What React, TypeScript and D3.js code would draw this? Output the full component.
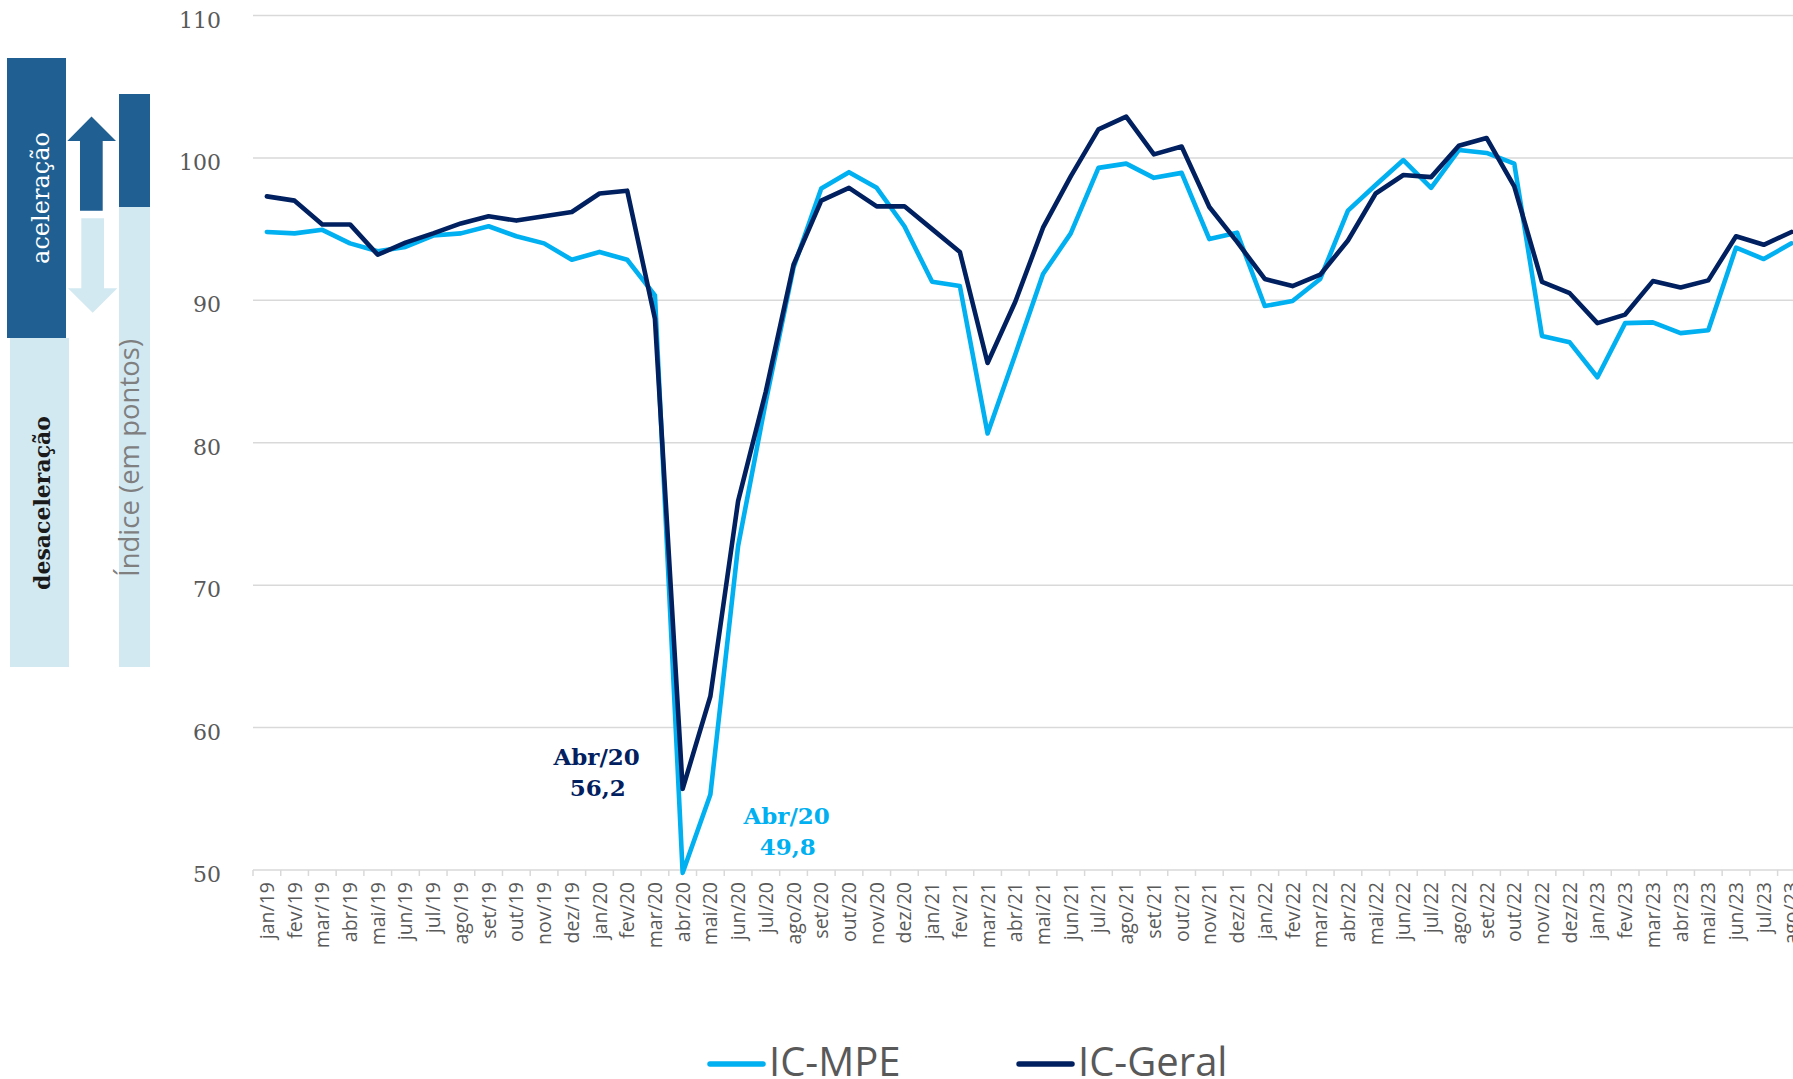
import React from "react";
import * as d3 from "d3";

const categories = [
  "jan/19","fev/19","mar/19","abr/19","mai/19","jun/19","jul/19","ago/19","set/19","out/19","nov/19","dez/19",
  "jan/20","fev/20","mar/20","abr/20","mai/20","jun/20","jul/20","ago/20","set/20","out/20","nov/20","dez/20",
  "jan/21","fev/21","mar/21","abr/21","mai/21","jun/21","jul/21","ago/21","set/21","out/21","nov/21","dez/21",
  "jan/22","fev/22","mar/22","abr/22","mai/22","jun/22","jul/22","ago/22","set/22","out/22","nov/22","dez/22",
  "jan/23","fev/23","mar/23","abr/23","mai/23","jun/23","jul/23","ago/23",
];

const icMPE = [
  94.8, 94.7, 94.95, 94.0, 93.45, 93.75, 94.55, 94.7, 95.2, 94.5, 94.0, 92.85,
  93.4, 92.85, 90.35, 49.8, 55.3, 72.75, 82.9, 92.3, 97.85, 99.0, 97.9, 95.2,
  91.3, 91.0, 80.65, 86.2, 91.85, 94.7, 99.3, 99.6, 98.6, 98.95, 94.3, 94.75,
  89.6, 89.95, 91.5, 96.3, 98.1, 99.85, 97.9, 100.55, 100.35, 99.6, 87.5, 87.05,
  84.6, 88.4, 88.45, 87.7, 87.9, 93.7, 92.9, 94.0,
];

const icGeral = [
  97.3, 97.0, 95.33, 95.33, 93.2, 94.05, 94.7, 95.4, 95.9, 95.6, 95.9, 96.2,
  97.5, 97.7, 88.7, 55.7, 62.2, 75.9, 83.6, 92.5, 97.0, 97.9, 96.6, 96.6,
  95.0, 93.4, 85.6, 89.9, 95.1, 98.7, 102.0, 102.9, 100.25, 100.8, 96.55, 94.1,
  91.5, 91.0, 91.8, 94.2, 97.5, 98.8, 98.65, 100.85, 101.4, 98.0, 91.3, 90.5,
  88.4, 89.0, 91.35, 90.9, 91.4, 94.5, 93.9, 94.8,
];

const yTicks = [50, 60, 70, 80, 90, 100, 110];

const seriesNames = ["IC-MPE", "IC-Geral"];
const seriesColors = ["#00B0F0", "#002060"];

const annotations = [
  { series: 1, label: "Abr/20", value: "56,2", cat: "abr/20" },
  { series: 0, label: "Abr/20", value: "49,8", cat: "abr/20" },
];

const W = 1793;
const H = 1079;
const plotLeft = 253;
const step = 27.72;
const yTop = 15.5;
const yBottom = 870;

export default function App() {
  const x = d3
    .scaleBand<string>()
    .domain(categories)
    .range([plotLeft, plotLeft + step * categories.length])
    .paddingInner(0)
    .paddingOuter(0);
  const xc = (c: string) => (x(c) as number) + x.bandwidth() / 2;
  const y = d3.scaleLinear().domain([50, 110]).range([yBottom, yTop]);

  const line = d3
    .line<number>()
    .x((_, i) => xc(categories[i]))
    .y((d) => y(d));

  const series = [icMPE, icGeral];
  const grid = "#d9d9d9";
  const darkBox = "#1F5F92";
  const lightBox = "#D3E9F2";

  const ax = xc("abr/20");

  return (
    <svg
      width={W}
      height={H}
      style={{ position: "absolute", left: 0, top: 0, background: "#fff" }}
    >
      <rect x={0} y={0} width={W} height={H} fill="#fff" />
      {/* left panel */}
      <rect x={7} y={58} width={59} height={280} fill={darkBox} />
      <rect x={10} y={338} width={59} height={329} fill={lightBox} />
      <rect x={119} y={94} width={31} height={113} fill={darkBox} />
      <rect x={119} y={207} width={31} height={460} fill={lightBox} />
      <polygon
        points="91.5,116.5 116,141 102.7,141 102.7,210.7 80,210.7 80,141 67.3,141"
        fill={darkBox}
      />
      <polygon
        points="81.3,218.3 104,218.3 104,288.3 117.3,288.3 92.7,312.7 68,288.3 81.3,288.3"
        fill={lightBox}
      />
      <text
        transform="translate(49,198) rotate(-90)"
        textAnchor="middle"
        fontFamily="DejaVu Serif"
        fontSize={24}
        fill="#ffffff"
      >
        aceleração
      </text>
      <text
        transform="translate(50,503) rotate(-90)"
        textAnchor="middle"
        fontFamily="DejaVu Serif"
        fontWeight="bold"
        fontSize={22}
        fill="#1a1a1a"
      >
        desaceleração
      </text>
      <text
        transform="translate(139,458) rotate(-90)"
        textAnchor="middle"
        fontFamily="Open Sans"
        fontSize={27.5}
        fill="#7f7f7f"
      >
        Índice (em pontos)
      </text>

      {/* gridlines */}
      {yTicks.map((t) => (
        <line
          key={"g" + t}
          x1={plotLeft}
          x2={W}
          y1={y(t)}
          y2={y(t)}
          stroke={grid}
          strokeWidth={1.5}
        />
      ))}
      {yTicks.map((t) => (
        <text
          key={"yt" + t}
          x={221}
          y={y(t) + 12}
          textAnchor="end"
          fontFamily="DejaVu Serif"
          fontSize={22}
          fill="#595959"
        >
          {t}
        </text>
      ))}

      {/* x ticks */}
      {categories.map((c) => (
        <line
          key={"xt" + c}
          x1={x(c) as number}
          x2={x(c) as number}
          y1={yBottom}
          y2={yBottom + 6}
          stroke={grid}
          strokeWidth={1.5}
        />
      ))}
      {categories.map((c) => (
        <text
          key={"xl" + c}
          transform={`translate(${xc(c)},882) rotate(-90)`}
          textAnchor="end"
          dy="0.36em"
          fontFamily="Open Sans"
          fontSize={19.5}
          fill="#595959"
        >
          {c}
        </text>
      ))}

      {/* series */}
      {series.map((s, i) => (
        <path
          key={"s" + i}
          d={line(s) || ""}
          fill="none"
          stroke={seriesColors[i]}
          strokeWidth={4.6}
          strokeLinejoin="round"
          strokeLinecap="round"
        />
      ))}

      {/* annotations */}
      {annotations.map((a, i) => {
        const dx = a.series === 1 ? -86 : 104;
        const by = a.series === 1 ? 765 : 824;
        return (
          <g key={"a" + i} fill={seriesColors[a.series]} fontFamily="DejaVu Serif" fontWeight="bold" fontSize={23} textAnchor="middle">
            <text x={ax + dx} y={by}>{a.label}</text>
            <text x={ax + dx + 1} y={by + 31}>{a.value}</text>
          </g>
        );
      })}

      {/* legend */}
      {seriesNames.map((n, i) => {
        const lx = i === 0 ? 710 : 1019;
        return (
          <g key={"l" + i}>
            <line
              x1={lx}
              x2={lx + 53}
              y1={1064}
              y2={1064}
              stroke={seriesColors[i]}
              strokeWidth={5.5}
              strokeLinecap="round"
            />
            <text
              x={lx + 59}
              y={1076}
              fontFamily="Open Sans"
              fontSize={40}
              fill="#595959"
            >
              {n}
            </text>
          </g>
        );
      })}
    </svg>
  );
}
